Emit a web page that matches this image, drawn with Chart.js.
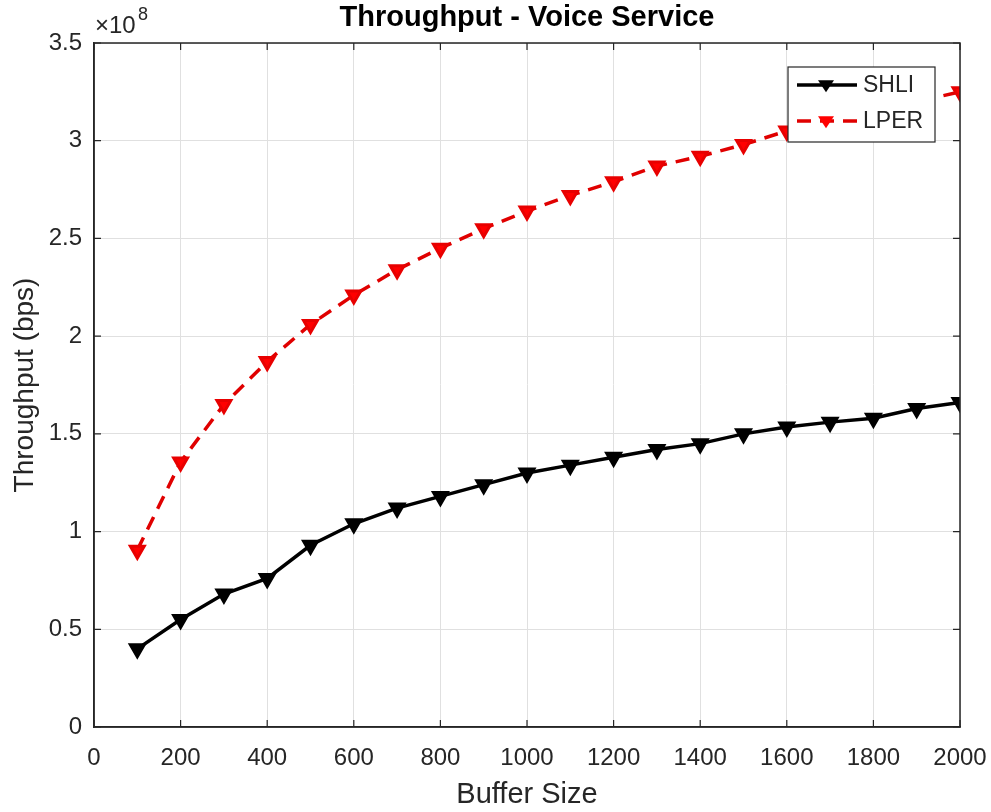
<!DOCTYPE html>
<html lang="en">
<head>
    <meta charset="UTF-8">
    <title>Throughput - Voice Service</title>
    <script src="https://cdn.jsdelivr.net/npm/chart.js"></script>
    <style>
        body {
            margin: 0;
            padding: 0;
            background: #ffffff;
        }

        .chart-container {
            width: 991px;
            height: 812px;
        }
    </style>
</head>
<body>
    <div class="chart-container">
        <canvas id="throughputChart" width="991" height="812"></canvas>
    </div>

    <script>
        // Buffer sizes and throughput (bps) per scheme
        const bufferSizes = [100, 200, 300, 400, 500, 600, 700, 800, 900, 1000,
                             1100, 1200, 1300, 1400, 1500, 1600, 1700, 1800, 1900, 2000];
        const shliThroughput = [0.40e8, 0.55e8, 0.68e8, 0.76e8, 0.93e8, 1.04e8, 1.12e8, 1.18e8, 1.24e8, 1.30e8,
                                1.34e8, 1.38e8, 1.42e8, 1.45e8, 1.50e8, 1.535e8, 1.56e8, 1.58e8, 1.63e8, 1.66e8];
        const lperThroughput = [0.905e8, 1.356e8, 1.65e8, 1.87e8, 2.06e8, 2.21e8, 2.34e8, 2.45e8, 2.55e8, 2.64e8,
                                2.72e8, 2.79e8, 2.87e8, 2.92e8, 2.98e8, 3.05e8, 3.10e8, 3.15e8, 3.20e8, 3.25e8];
        const seriesNames = ['SHLI', 'LPER'];
        const yTickStep = 0.5e8;

        const textColor = '#262626';
        const fontFamily = "'Liberation Sans', Arial, sans-serif";

        // Box around the axes with inward ticks, title, exponent label and the in-plot legend
        const matlabFrame = {
            id: 'matlabFrame',
            afterDraw(chart) {
                const { ctx, chartArea: a } = chart;
                const xs = chart.scales.x, ys = chart.scales.y;
                ctx.save();
                ctx.strokeStyle = '#262626';
                ctx.lineWidth = 1.5;
                ctx.strokeRect(a.left, a.top, a.right - a.left, a.bottom - a.top);

                // inward tick marks on all four sides
                const tl = 7;
                ctx.lineWidth = 1.2;
                ctx.beginPath();
                xs.ticks.forEach(t => {
                    const px = xs.getPixelForValue(t.value);
                    ctx.moveTo(px, a.bottom); ctx.lineTo(px, a.bottom - tl);
                    ctx.moveTo(px, a.top); ctx.lineTo(px, a.top + tl);
                });
                ys.ticks.forEach(t => {
                    const py = ys.getPixelForValue(t.value);
                    ctx.moveTo(a.left, py); ctx.lineTo(a.left + tl, py);
                    ctx.moveTo(a.right, py); ctx.lineTo(a.right - tl, py);
                });
                ctx.stroke();

                // title
                ctx.fillStyle = '#000000';
                ctx.font = 'bold 29px ' + fontFamily;
                ctx.textAlign = 'center';
                ctx.textBaseline = 'middle';
                ctx.fillText('Throughput - Voice Service', (a.left + a.right) / 2, 18);

                // exponent
                ctx.fillStyle = textColor;
                ctx.textAlign = 'left';
                ctx.font = '24px ' + fontFamily;
                ctx.fillText('\u00d710', a.left + 1, 26);
                ctx.font = '18px ' + fontFamily;
                ctx.fillText('8', a.left + 44, 15);

                // legend
                const lx = 788, ly = 67, lw = 147, lh = 75;
                ctx.fillStyle = '#ffffff';
                ctx.fillRect(lx, ly, lw, lh);
                ctx.strokeStyle = '#262626';
                ctx.lineWidth = 1.2;
                ctx.strokeRect(lx, ly, lw, lh);
                chart.data.datasets.forEach((ds, i) => {
                    const y = ly + 18 + i * 36;
                    ctx.strokeStyle = ds.borderColor;
                    ctx.lineWidth = ds.borderWidth;
                    ctx.setLineDash(ds.borderDash || []);
                    ctx.beginPath();
                    ctx.moveTo(lx + 9, y);
                    ctx.lineTo(lx + 69, y);
                    ctx.stroke();
                    ctx.setLineDash([]);
                    // marker
                    const cx = lx + 38, r = 8;
                    ctx.fillStyle = ds.pointBackgroundColor;
                    ctx.beginPath();
                    ctx.moveTo(cx - r, y - r * 0.6);
                    ctx.lineTo(cx + r, y - r * 0.6);
                    ctx.lineTo(cx, y + r * 0.9);
                    ctx.closePath();
                    ctx.fill();
                    ctx.fillStyle = textColor;
                    ctx.font = '23px ' + fontFamily;
                    ctx.textAlign = 'left';
                    ctx.fillText(ds.label, lx + 75, y + 1);
                });
                ctx.restore();
            }
        };

        const ctx = document.getElementById('throughputChart').getContext('2d');
        new Chart(ctx, {
            type: 'line',
            data: {
                datasets: [{
                    label: seriesNames[0],
                    data: bufferSizes.map((x, i) => ({ x: x, y: shliThroughput[i] })),
                    borderColor: '#000000',
                    backgroundColor: '#000000',
                    pointBackgroundColor: '#000000',
                    pointBorderColor: '#000000',
                    borderWidth: 3.5,
                    pointStyle: 'triangle',
                    rotation: 180,
                    pointRadius: 8,
                    pointBorderWidth: 3,
                    tension: 0
                }, {
                    label: seriesNames[1],
                    data: bufferSizes.map((x, i) => ({ x: x, y: lperThroughput[i] })),
                    borderColor: '#e00000',
                    backgroundColor: '#ff0000',
                    pointBackgroundColor: '#ff0000',
                    pointBorderColor: '#e80000',
                    borderWidth: 3.5,
                    borderDash: [14, 9],
                    pointStyle: 'triangle',
                    rotation: 180,
                    pointRadius: 8,
                    pointBorderWidth: 3,
                    tension: 0
                }]
            },
            options: {
                responsive: false,
                animation: false,
                layout: {
                    padding: { top: 43, right: 31, left: 0, bottom: 0 }
                },
                plugins: {
                    legend: { display: false },
                    title: { display: false },
                    tooltip: { enabled: false }
                },
                scales: {
                    x: {
                        type: 'linear',
                        min: 0,
                        max: 2000,
                        ticks: {
                            stepSize: 200,
                            color: textColor,
                            font: { size: 24, family: fontFamily },
                            padding: 17,
                            maxRotation: 0,
                            autoSkip: false,
                            callback: value => String(value)
                        },
                        grid: {
                            color: '#e0e0e0',
                            lineWidth: 1,
                            tickLength: 0
                        },
                        border: { color: '#262626', width: 1.5 },
                        title: {
                            display: true,
                            text: 'Buffer Size',
                            color: textColor,
                            font: { size: 29, family: fontFamily },
                            padding: { top: 2, bottom: 0 }
                        },
                        afterFit(scale) {
                            scale.height = 85;
                            scale.paddingLeft = 0;
                            scale.paddingRight = 0;
                        }
                    },
                    y: {
                        min: 0,
                        max: 3.5e8,
                        ticks: {
                            stepSize: yTickStep,
                            color: textColor,
                            font: { size: 24, family: fontFamily },
                            padding: 12,
                            callback: value => String(value / 1e8)
                        },
                        grid: {
                            color: '#e0e0e0',
                            lineWidth: 1,
                            tickLength: 0
                        },
                        border: { color: '#262626', width: 1.5 },
                        title: {
                            display: true,
                            text: 'Throughput (bps)',
                            color: textColor,
                            font: { size: 28, family: fontFamily },
                            padding: { top: 8, bottom: 0 }
                        },
                        afterFit(scale) {
                            scale.width = 94;
                            scale.paddingTop = 0;
                            scale.paddingBottom = 0;
                        }
                    }
                }
            },
            plugins: [matlabFrame]
        });
    </script>
</body>
</html>
